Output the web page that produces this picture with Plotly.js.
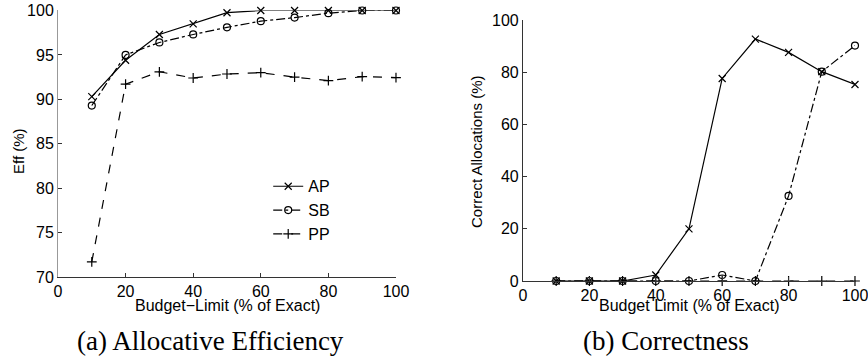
<!DOCTYPE html>
<html><head><meta charset="utf-8">
<script src="https://cdn.plot.ly/plotly-3.0.1.min.js"></script>
<style>html,body{margin:0;padding:0;background:#fff}#c{width:868px;height:358px}</style>
</head><body><div id="c"></div>
<script>
var budget = [10, 20, 30, 40, 50, 60, 70, 80, 90, 100];
var effAP = [90.3, 94.4, 97.3, 98.5, 99.75, 100, 100, 100, 100, 100];
var effSB = [89.3, 95.0, 96.4, 97.3, 98.1, 98.8, 99.2, 99.7, 100, 100];
var effPP = [71.7, 91.7, 93.1, 92.4, 92.85, 93.0, 92.5, 92.1, 92.55, 92.45];
var corAP = [0, 0, 0, 2.3, 20.0, 77.6, 92.7, 87.6, 80.2, 75.3];
var corSB = [0, 0, 0, 0, 0, 2.3, 0, 32.6, 80.2, 90.2];
var corPP = [0, 0, 0, 0, 0, 0, 0, 0, 0, 0];
var names = ['AP', 'SB', 'PP'];
var xTicks = [0, 20, 40, 60, 80, 100];
var effTicks = [70, 75, 80, 85, 90, 95, 100];
var corTicks = [0, 20, 40, 60, 80, 100];

var styles = [
  {dash: 'solid', symbol: 'x-thin-open', size: 7},
  {dash: 'dashdot', symbol: 'circle-open', size: 7},
  {dash: 'dash', symbol: 'cross-thin-open', size: 7}
];
function tr(y, i, xa, ya, leg) {
  return {x: budget, y: y, xaxis: xa, yaxis: ya, name: names[i], showlegend: leg,
    mode: 'lines+markers', cliponaxis: false,
    line: {color: '#000', width: 1.2, dash: styles[i].dash},
    marker: {symbol: styles[i].symbol, size: styles[i].size, color: '#000', line: {color: '#000', width: 1.2}}};
}
var data = [
  tr(effAP, 0, 'x', 'y', true), tr(effSB, 1, 'x', 'y', true), tr(effPP, 2, 'x', 'y', true),
  tr(corAP, 0, 'x2', 'y2', false), tr(corSB, 1, 'x2', 'y2', false), tr(corPP, 2, 'x2', 'y2', false)
];
var sans = 'Liberation Sans, Arial, Helvetica, sans-serif';
var serif = 'Liberation Serif, Times New Roman, serif';
var tf = {family: sans, size: 16, color: '#000'};
function ax(o) {
  return Object.assign({showline: true, linecolor: '#333', linewidth: 1, ticks: 'inside', ticklen: 4,
    tickcolor: '#333', showgrid: false, zeroline: false, tickfont: tf, fixedrange: true,
    ticklabeloverflow: 'allow', ticklabelstandoff: 0}, o);
}
var layout = {
  width: 868, height: 358, margin: {l: 0, r: 0, t: 0, b: 0},
  paper_bgcolor: '#fff', plot_bgcolor: 'rgba(0,0,0,0)',
  font: {family: sans, color: '#000'},
  xaxis: ax({domain: [0.0668, 0.4562], range: [0, 100], tickvals: xTicks, anchor: 'y'}),
  yaxis: ax({domain: [0.2263, 0.9707], range: [70, 100], tickvals: effTicks, anchor: 'x', linecolor: '#999'}),
  xaxis2: ax({domain: [0.6025, 0.985], range: [0, 100], tickvals: xTicks, anchor: 'y2'}),
  yaxis2: ax({domain: [0.2151, 0.9441], range: [0, 100], tickvals: corTicks, anchor: 'x2'}),
  legend: {x: 0.309, y: 0.527, xanchor: 'left', yanchor: 'top', bgcolor: 'rgba(0,0,0,0)',
    font: {family: sans, size: 16, color: '#000'}, itemwidth: 30, tracegroupgap: 0},
  annotations: [
    {text: 'Eff (%)', x: 18, y: 151, textangle: -90, font: {family: sans, size: 15, color: '#000'}},
    {text: 'Budget\u2212Limit (% of Exact)', x: 227, y: 305, font: {family: sans, size: 16, color: '#000'}},
    {text: 'Correct Allocations (%)', x: 476, y: 151, textangle: -90, font: {family: sans, size: 15, color: '#000'}},
    {text: 'Budget Limit (% of Exact)', x: 689, y: 305, font: {family: sans, size: 16, color: '#000'}},
    {text: '(a) Allocative Efficiency', x: 210, y: 341, font: {family: serif, size: 27, color: '#000'}},
    {text: '(b) Correctness', x: 666, y: 341, font: {family: serif, size: 27, color: '#000'}}
  ]
};
// convert pixel positions of annotations to paper coords
layout.annotations.forEach(function (a) {
  a.xref = 'paper'; a.yref = 'paper'; a.showarrow = false;
  a.x = a.x / 868;
  a.y = 1 - a.y / 358;
  a.xanchor = 'center'; a.yanchor = 'middle';
});
Plotly.newPlot('c', data, layout, {displayModeBar: false, staticPlot: true});
</script></body></html>
